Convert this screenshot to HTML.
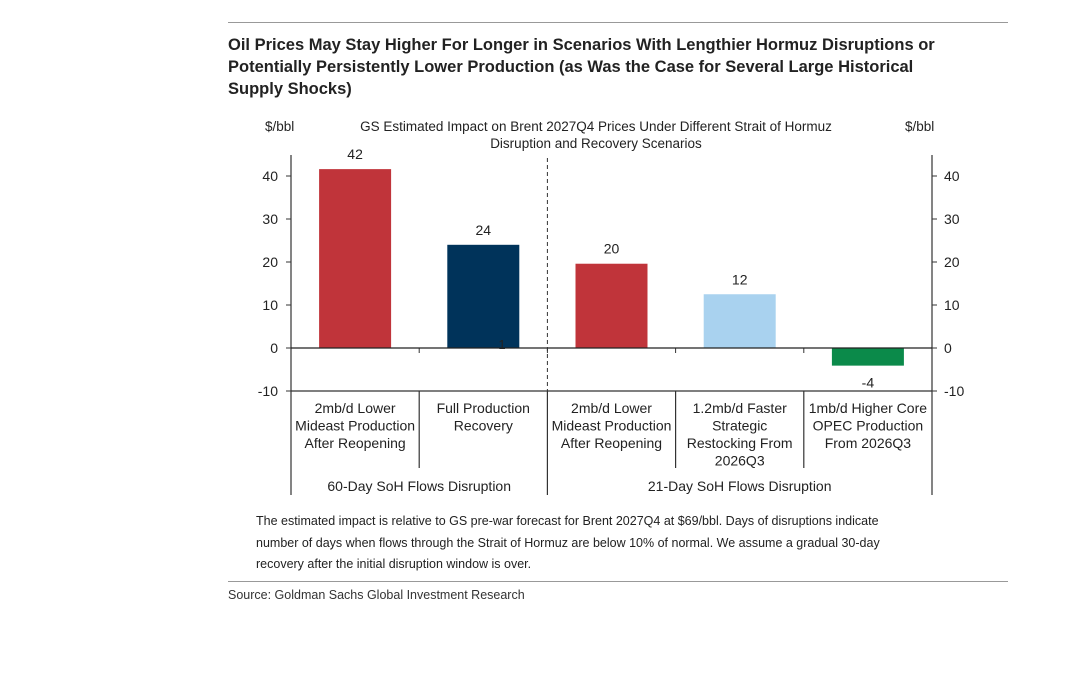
<!DOCTYPE html>
<html><head><meta charset="utf-8"><style>
body{margin:0;background:#fff;width:1080px;height:674px;overflow:hidden;font-family:"Liberation Sans",sans-serif;position:relative}
.t{position:absolute}
</style></head><body>
<div class="t" style="left:228px;top:22px;width:780px;height:1px;background:#999"></div>
<div class="t" style="left:228px;top:34px;width:725px;font-weight:bold;font-size:16.5px;line-height:22px;color:#222">Oil Prices May Stay Higher For Longer in Scenarios With Lengthier Hormuz Disruptions or Potentially Persistently Lower Production (as Was the Case for Several Large Historical Supply Shocks)</div>
<svg class="t" style="left:0;top:0" width="1080" height="674" id="chart" font-family="Liberation Sans, sans-serif"></svg>
<div class="t" style="left:256px;top:511px;width:645px;font-size:12.5px;line-height:21.5px;color:#222">The estimated impact is relative to GS pre-war forecast for Brent 2027Q4 at $69/bbl. Days of disruptions indicate number of days when flows through the Strait of Hormuz are below 10% of normal. We assume a gradual 30-day recovery after the initial disruption window is over.</div>
<div class="t" style="left:228px;top:581px;width:780px;height:1px;background:#999"></div>
<div class="t" style="left:228px;top:588px;font-size:12.5px;color:#333">Source: Goldman Sachs Global Investment Research</div>
<script>
const categories=[["2mb/d Lower","Mideast Production","After Reopening"],["Full Production","Recovery"],["2mb/d Lower","Mideast Production","After Reopening"],["1.2mb/d Faster","Strategic","Restocking From","2026Q3"],["1mb/d Higher Core","OPEC Production","From 2026Q3"]];
const values=[41.6,24,19.6,12.5,-4.1];
const valueLabels=["42","24","20","12","-4"];
const colors=["#c0343a","#00335a","#c0343a","#a9d2ef","#0b8a4a"];
const ticks=[-10,0,10,20,30,40];
const groups=[{name:"60-Day SoH Flows Disruption",from:0,to:2},{name:"21-Day SoH Flows Disruption",from:2,to:5}];
const svg=document.getElementById('chart');const NS="http://www.w3.org/2000/svg";
const X0=291,X1=932,Y0=348,K=4.3;
const y=v=>Y0-v*K;const cw=(X1-X0)/categories.length;const cx=i=>X0+cw*(i+0.5);
function mk(t,a,txt){const e=document.createElementNS(NS,t);for(const k in a)e.setAttribute(k,a[k]);if(txt!=null)e.textContent=txt;svg.appendChild(e);return e;}
let e;
e=mk('text',{x:265,y:131,'font-size':13.5,fill:'#222'},'$/bbl');
e=mk('text',{x:905,y:131,'font-size':13.5,fill:'#222'},'$/bbl');
e=mk('text',{x:596,y:131,'font-size':13.5,fill:'#222','text-anchor':'middle'},'GS Estimated Impact on Brent 2027Q4 Prices Under Different Strait of Hormuz');
e=mk('text',{x:596,y:148,'font-size':13.5,fill:'#222','text-anchor':'middle'},'Disruption and Recovery Scenarios');
values.forEach((v,i)=>{const top=Math.min(y(v),Y0),h=Math.abs(y(v)-Y0);
e=mk('rect',{x:cx(i)-36,y:top,width:72,height:h,fill:colors[i]});
const ly=v>=0?y(v)-10:y(v)+22;
e=mk('text',{x:cx(i),y:ly,'font-size':14,fill:'#222','text-anchor':'middle'},valueLabels[i]);
const lines=categories[i];lines.forEach((l,j)=>{e=mk('text',{x:cx(i),y:413+j*17.5,'font-size':14,fill:'#222','text-anchor':'middle'},l);});
if(i>0){e=mk('line',{x1:X0+cw*i,x2:X0+cw*i,y1:y(-10),y2:groups.some(g=>g.from===i)?495:468,stroke:'#333','stroke-width':1.2});
e=mk('line',{x1:X0+cw*i,x2:X0+cw*i,y1:Y0,y2:Y0+5,stroke:'#333'});}
});
e=mk('text',{x:502,y:349,'font-size':13,fill:'#222','text-anchor':'middle'},'1');
groups.forEach(g=>{e=mk('text',{x:X0+cw*(g.from+g.to)/2,y:491,'font-size':14,fill:'#222','text-anchor':'middle'},g.name);});
e=mk('line',{x1:X0,x2:X0,y1:155,y2:495,stroke:'#333','stroke-width':1.2});
e=mk('line',{x1:X1,x2:X1,y1:155,y2:495,stroke:'#333','stroke-width':1.2});
e=mk('line',{x1:X0,x2:X1,y1:Y0,y2:Y0,stroke:'#222','stroke-width':1.2});
e=mk('line',{x1:X0,x2:X1,y1:y(-10),y2:y(-10),stroke:'#333','stroke-width':1.2});
e=mk('line',{x1:X0+cw*2,x2:X0+cw*2,y1:158,y2:y(-10),stroke:'#333','stroke-dasharray':'4,3'});
ticks.forEach(t=>{
e=mk('line',{x1:X0-5,x2:X0,y1:y(t),y2:y(t),stroke:'#333'});
e=mk('line',{x1:X1,x2:X1+5,y1:y(t),y2:y(t),stroke:'#333'});
e=mk('text',{x:X0-13,y:y(t)+5,'font-size':14,fill:'#222','text-anchor':'end'},String(t));
e=mk('text',{x:X1+12,y:y(t)+5,'font-size':14,fill:'#222'},String(t));
});
</script>
</body></html>
